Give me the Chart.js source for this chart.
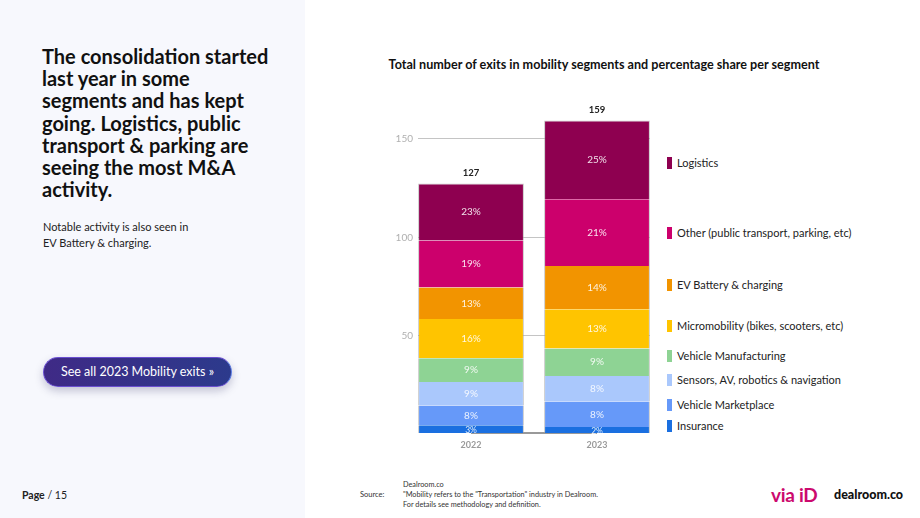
<!DOCTYPE html>
<html>
<head>
<meta charset="utf-8">
<script src="https://cdn.jsdelivr.net/npm/chart.js@4/dist/chart.umd.min.js"></script>
<style>
  html,body{margin:0;padding:0;width:920px;height:518px;overflow:hidden;background:#fff;font-family:Lato,"Noto Sans",sans-serif;}
  #left{position:absolute;left:0;top:0;width:305px;height:518px;background:#f7f8fd;}
  #headline{position:absolute;left:42px;top:45px;width:234px;font-weight:700;font-size:20px;line-height:22.2px;color:#111;}
  #sub{position:absolute;left:43px;top:219px;font-size:11px;line-height:16px;color:#222;}
  #btn{position:absolute;left:43px;top:357px;width:187px;height:28px;border-radius:15px;
       background:linear-gradient(90deg,#3f2a86,#2c3a8c);border:1.5px solid #6a4fd0;border-right-color:#5a7ae0;
       box-shadow:0 4px 8px rgba(40,40,90,0.25);color:#fff;font-size:12.5px;line-height:28px;text-align:center;}
  #page{position:absolute;left:22px;top:489px;font-size:10.5px;color:#222;}
  #ctitle{position:absolute;left:354px;top:57px;width:500px;text-align:center;font-weight:700;font-size:12.6px;color:#111;}
  #chartwrap{position:absolute;left:360px;top:90px;width:300px;height:363px;}
  .leg{position:absolute;left:667px;font-size:11px;color:#222;height:14px;line-height:14px;white-space:nowrap;}
  .leg i{display:inline-block;width:5px;height:12px;vertical-align:-2px;margin-right:5px;}
  #src{position:absolute;left:360px;top:490px;font-size:7.5px;color:#333;}
  #srctxt{position:absolute;left:403px;top:480px;font-size:7.3px;line-height:10px;color:#333;}
  #via{position:absolute;left:771px;top:483px;font-size:19px;font-weight:700;color:#cc0a6e;letter-spacing:-0.3px;}
  #dr{position:absolute;left:834px;top:487px;font-size:12.5px;font-weight:900;color:#111;}
</style>
</head>
<body>
<div id="left"></div>
<div id="headline">The consolidation started last year in some segments and has kept going. Logistics, public transport &amp; parking are seeing the most M&amp;A activity.</div>
<div id="sub">Notable activity is also seen in<br>EV Battery &amp; charging.</div>
<div id="btn">See all 2023 Mobility exits »</div>
<div id="page"><b>Page</b> / 15</div>
<div id="ctitle">Total number of exits in mobility segments and percentage share per segment</div>
<div id="chartwrap"><canvas id="c" width="300" height="363"></canvas></div>
<div id="legend"></div>
<div id="src">Source:</div>
<div id="srctxt">Dealroom.co<br>"Mobility refers to the "Transportation" industry in Dealroom.<br>For details see methodology and definition.</div>
<div id="via">via iD</div>
<div id="dr">dealroom.co</div>
<script>
const years = ["2022", "2023"];
const segments = ["Insurance", "Vehicle Marketplace", "Sensors, AV, robotics & navigation", "Vehicle Manufacturing", "Micromobility (bikes, scooters, etc)", "EV Battery & charging", "Other (public transport, parking, etc)", "Logistics"];
const colors = ["#1a6fe0", "#6699f9", "#aac8fc", "#8ed394", "#ffc400", "#f29400", "#cc006c", "#8e0050"];
const insurance = [4, 3];
const vehicleMarketplace = [10, 13];
const sensors = [12, 13];
const vehicleManufacturing = [12, 14];
const micromobility = [20, 20];
const evBattery = [16, 22];
const other = [24, 34];
const logistics = [29, 40];
const yTicks = [50, 100, 150];
const legendTops = [419, 398, 373, 349, 319, 278, 226, 156];

const series = [insurance, vehicleMarketplace, sensors, vehicleManufacturing, micromobility, evBattery, other, logistics];
const totals = years.map((_, i) => series.reduce((s, a) => s + a[i], 0));

// legend
const lg = document.getElementById('legend');
segments.forEach((s, i) => {
  const d = document.createElement('div');
  d.className = 'leg';
  d.style.top = legendTops[i] + 'px';
  d.innerHTML = '<i style="background:' + colors[i] + '"></i>' + s.replace(/&/g, '&amp;');
  lg.appendChild(d);
});

const gridPlugin = {
  id: 'gridlines',
  beforeDatasetsDraw(chart) {
    const ctx = chart.ctx, y = chart.scales.y, area = chart.chartArea;
    const lastMeta = chart.getDatasetMeta(chart.data.datasets.length - 1);
    const lastBar = lastMeta.data[lastMeta.data.length - 1];
    const firstBar = lastMeta.data[0];
    const x0 = area.left + 10;
    const x1 = lastBar.x + lastBar.width / 2;
    ctx.save();
    ctx.font = '10px Lato, sans-serif';
    ctx.textAlign = 'right';
    ctx.textBaseline = 'middle';
    yTicks.forEach(v => {
      const py = Math.round(y.getPixelForValue(v)) + 0.5;
      ctx.strokeStyle = '#c4c4c4';
      ctx.lineWidth = 1;
      ctx.beginPath(); ctx.moveTo(x0, py); ctx.lineTo(x1, py); ctx.stroke();
      ctx.fillStyle = '#b0b0b0';
      ctx.fillText(String(v), x0 - 5, py);
    });
    const pz = Math.round(y.getPixelForValue(0));
    ctx.strokeStyle = '#777';
    ctx.lineWidth = 1.5;
    ctx.beginPath(); ctx.moveTo(firstBar.x, pz); ctx.lineTo(lastBar.x, pz); ctx.stroke();
    ctx.restore();
  }
};

const labelsPlugin = {
  id: 'labels',
  afterDatasetsDraw(chart) {
    const ctx = chart.ctx;
    ctx.save();
    ctx.textAlign = 'center';
    ctx.textBaseline = 'middle';
    chart.data.datasets.forEach((ds, di) => {
      const meta = chart.getDatasetMeta(di);
      meta.data.forEach((bar, i) => {
        const pct = Math.round(ds.data[i] / totals[i] * 100) + '%';
        const y = (bar.y + bar.base) / 2;
        ctx.fillStyle = 'rgba(255,255,255,0.88)';
        ctx.font = (di === 0 ? '8.5px' : '10px') + ' Lato, sans-serif';
        ctx.fillText(pct, bar.x, y + (di === 0 ? 1 : 0));
      });
    });
    const last = chart.getDatasetMeta(chart.data.datasets.length - 1);
    last.data.forEach((bar, i) => {
      ctx.fillStyle = '#222';
      ctx.font = 'bold 9.5px Lato, sans-serif';
      ctx.fillText(String(totals[i]), bar.x, bar.y - 11);
    });
    ctx.restore();
  }
};

new Chart(document.getElementById('c'), {
  type: 'bar',
  data: {
    labels: years,
    datasets: series.map((d, i) => ({
      label: segments[i],
      data: d,
      backgroundColor: colors[i],
      borderColor: 'rgba(160,160,160,0.55)',
      borderWidth: i === series.length - 1 ? { left: 1, right: 1, top: 1, bottom: 0 } : { left: 1, right: 1, top: 0, bottom: 0 },
      borderSkipped: false,
      barPercentage: 1,
      categoryPercentage: 0.84
    }))
  },
  options: {
    responsive: false,
    animation: false,
    devicePixelRatio: 1,
    layout: { padding: { top: 9, right: 0, left: 0, bottom: 0 } },
    plugins: { legend: { display: false }, tooltip: { enabled: false } },
    scales: {
      x: {
        stacked: true,
        grid: { display: false, drawTicks: false },
        border: { display: false },
        ticks: { color: '#9a9a9a', font: { family: 'Lato', size: 9, weight: 'bold' }, padding: 7 },
        afterFit(s) { s.height = 20; }
      },
      y: {
        stacked: true,
        min: 0,
        max: 170,
        border: { display: false },
        grid: { display: false, drawTicks: false },
        ticks: { display: false },
        afterFit(s) { s.width = 48; }
      }
    }
  },
  plugins: [gridPlugin, labelsPlugin]
});
</script>
</body>
</html>
